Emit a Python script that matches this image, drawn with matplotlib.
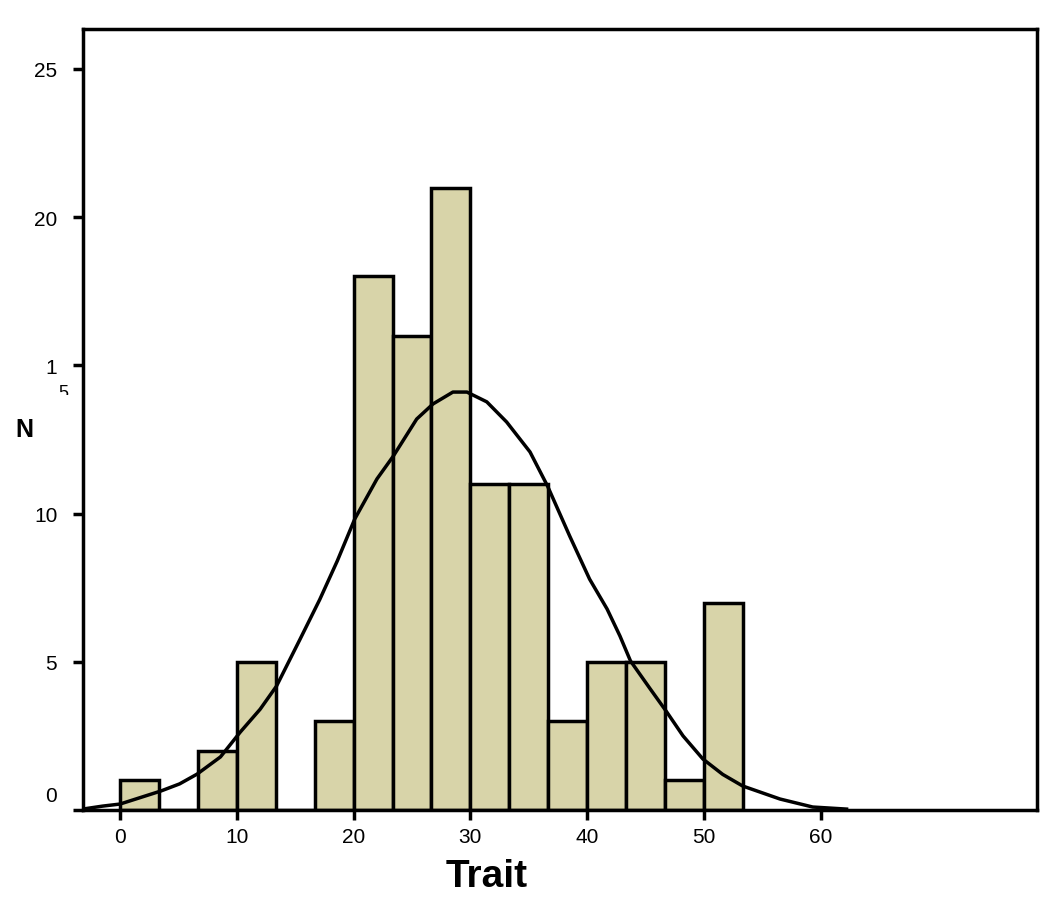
import matplotlib
matplotlib.use("Agg")
import matplotlib.pyplot as plt
from matplotlib.transforms import Bbox, ScaledTranslation

plt.rcParams['font.family'] = ['Liberation Sans', 'DejaVu Sans']

# histogram bins (width 10/3) and counts
bin_left = [0.0, 3.333, 6.667, 10.0, 13.333, 16.667, 20.0, 23.333, 26.667,
            30.0, 33.333, 36.667, 40.0, 43.333, 46.667, 50.0]
bin_width = 3.333
counts = [1, 0, 2, 5, 0, 3, 18, 16, 21, 11, 11, 3, 5, 5, 1, 7]

# normal curve
curve_x = [-3.2, -1.5, 0.0, 3.5, 5.1, 6.6, 8.6, 10.3, 12.0, 13.4, 15.4, 17.1, 18.6,
           20.1, 22.0, 23.4, 25.4, 26.8, 28.5, 29.7, 31.4, 33.1, 35.1, 36.6,
           38.5, 40.2, 41.7, 42.8, 43.7, 45.4, 46.8, 48.2, 49.9, 51.6, 53.3, 56.5,
           59.3, 62.2]
curve_y = [0.03, 0.13, 0.2, 0.64, 0.88, 1.21, 1.79, 2.63, 3.4, 4.18, 5.75, 7.1, 8.4,
           9.82, 11.17, 11.94, 13.19, 13.7, 14.1, 14.1, 13.77, 13.09, 12.08, 10.93,
           9.24, 7.79, 6.78, 5.87, 5.03, 4.08, 3.31, 2.5, 1.72, 1.2, 0.81, 0.37,
           0.1, 0.03]

xticks = [0, 10, 20, 30, 40, 50, 60]
yticks = [0, 5, 10, 15, 20, 25]
ytick_labels = ['0', '5', '10', '1', '20', '25']

fig = plt.figure(figsize=(10.5, 9.03), dpi=100)
ax = fig.add_axes([0.079, 0.1019, 0.9086, 0.8649])

ax.bar(bin_left, counts, width=bin_width, align='edge', color='#d8d4a9',
       edgecolor='black', linewidth=2.5, zorder=2)
ax.plot(curve_x, curve_y, color='black', linewidth=2.5, zorder=3)

ax.set_xlim(-3.17, 78.5)
ax.set_ylim(0, 26.35)
ax.set_xticks(xticks)
ax.set_yticks(yticks)
ax.set_yticklabels(ytick_labels)
for s in ax.spines.values():
    s.set_linewidth(2.5)
ax.tick_params(axis='both', length=7.5, width=2.5, labelsize=15, color='black')
ax.tick_params(axis='y', pad=11)
ax.tick_params(axis='x', pad=5)

# the "0" label sits a bit above its tick in the original
lab0 = ax.get_yticklabels()[0]
lab0.set_transform(lab0.get_transform() + ScaledTranslation(0, 16 / 100, fig.dpi_scale_trans))

# the broken "15" label: a half-visible "5" below the "1"
t5 = fig.text(63 / 1050, 1 - 393 / 903, '5', fontsize=13, ha='center', va='center')
t5.set_clip_box(Bbox([[50, 903 - 396], [78, 903 - 380]]))
t5.set_clip_on(True)

fig.text(487 / 1050, 1 - 877 / 903, 'Trait', fontsize=28, fontweight='bold',
         ha='center', va='center')
fig.text(24 / 1050, 1 - 430 / 903, 'N', fontsize=18, fontweight='bold',
         ha='center', va='center')

fig.savefig('out.png', dpi=100)
